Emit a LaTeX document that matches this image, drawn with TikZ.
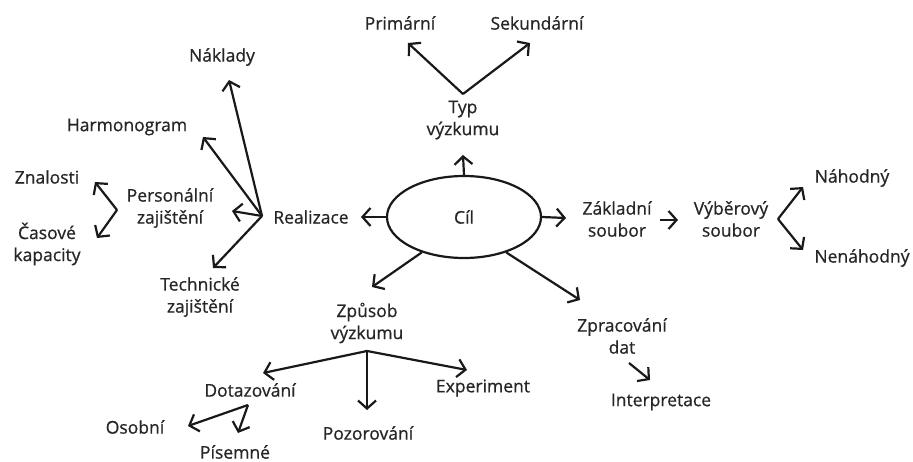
\documentclass[tikz,border=0pt]{standalone}
\usepackage{fontspec}
\setmainfont{Open Sans}[FakeBold=0.7]
\usetikzlibrary{arrows.meta,shapes.geometric}
\begin{document}
\begin{tikzpicture}[x=1pt,y=-1pt,
  lbl/.style={font=\fontsize{17.5}{22}\selectfont, align=center, inner sep=0pt, text=black!85},
  arr/.style={line width=2.2pt, draw=black!90, -{Straight Barb[length=8pt,width=18pt]}, line join=miter}]
\useasboundingbox (0,0) rectangle (913,462);
\fill[white] (0,0) rectangle (913,462);
% centre
\node[lbl, draw=black!90, line width=2.2pt, ellipse, minimum width=154pt, minimum height=82pt] (cil) at (464,217) {Cíl};
% labels
\node[lbl] (typ) at (463,120) {Typ\\výzkumu};
\node[lbl] (prim) at (400,23) {Primární};
\node[lbl] (sek) at (537,23) {Sekundární};
\node[lbl] (real) at (311,217) {Realizace};
\node[lbl] (nakl) at (222,57) {Náklady};
\node[lbl] (harm) at (127,127) {Harmonogram};
\node[lbl] (pers) at (170,208) {Personální\\zajištění};
\node[lbl] (tech) at (200,297) {Technické\\zajištění};
\node[lbl] (znal) at (47,177) {Znalosti};
\node[lbl] (cas) at (47,244) {Časové\\kapacity};
\node[lbl] (zakl) at (617,219) {Základní\\soubor};
\node[lbl] (vyb) at (731,219) {Výběrový\\soubor};
\node[lbl] (nah) at (852,178) {Náhodný};
\node[lbl] (nenah) at (862,258) {Nenáhodný};
\node[lbl] (zprac) at (622,336) {Zpracování\\dat};
\node[lbl] (interp) at (661,402) {Interpretace};
\node[lbl] (zpus) at (367,323) {Způsob\\výzkumu};
\node[lbl] (dot) at (250,390) {Dotazování};
\node[lbl] (poz) at (368,433) {Pozorování};
\node[lbl] (exp) at (483,388) {Experiment};
\node[lbl] (osob) at (135,427) {Osobní};
\node[lbl] (pis) at (235,452) {Písemné};
% points
\coordinate (tTyp) at (463,155);
\coordinate (bTyp) at (463,94);
\coordinate (tPrim) at (408,43);
\coordinate (tSek) at (530,43);
\coordinate (tReal) at (361,217);
\coordinate (bReal) at (262,216);
\coordinate (tNakl) at (229,80);
\coordinate (tHarm) at (203,137);
\coordinate (tPers) at (232,211);
\coordinate (tTech) at (213,268);
\coordinate (bPers) at (117,210);
\coordinate (tZnal) at (95,182);
\coordinate (tCas) at (97,238);
\coordinate (tZakl) at (566,218);
\coordinate (sZakl) at (660,220);
\coordinate (tVyb) at (678,220);
\coordinate (bVyb) at (778,219);
\coordinate (tNah) at (803,187);
\coordinate (tNenah) at (803,250);
\coordinate (tZprac) at (580,300);
\coordinate (sInt) at (629,363);
\coordinate (tInt) at (650,380);
\coordinate (tZpus) at (372,287);
\coordinate (bZpus) at (367,351);
\coordinate (tDot) at (263,373);
\coordinate (tPoz) at (367,410);
\coordinate (tExp) at (467,370);
\coordinate (bDot) at (248,405);
\coordinate (tOsob) at (188,426);
\coordinate (tPis) at (238,433);
% arrows
\draw[arr] (cil.north) -- (tTyp);
\draw[arr] (bTyp) -- (tPrim);
\draw[arr] (bTyp) -- (tSek);
\draw[arr] (cil.west) -- (tReal);
\draw[arr] (bReal) -- (tNakl);
\draw[arr] (bReal) -- (tHarm);
\draw[arr] (bReal) -- (tPers);
\draw[arr] (bReal) -- (tTech);
\draw[arr] (bPers) -- (tZnal);
\draw[arr] (bPers) -- (tCas);
\draw[arr] (cil.east) -- (tZakl);
\draw[arr] (sZakl) -- (tVyb);
\draw[arr] (bVyb) -- (tNah);
\draw[arr] (bVyb) -- (tNenah);
\draw[arr] (cil.-40) -- (tZprac);
\draw[arr] (sInt) -- (tInt);
\draw[arr] (cil.-140) -- (tZpus);
\draw[arr] (bZpus) -- (tDot);
\draw[arr] (bZpus) -- (tPoz);
\draw[arr] (bZpus) -- (tExp);
\draw[arr] (bDot) -- (tOsob);
\draw[arr] (bDot) -- (tPis);
\end{tikzpicture}
\end{document}
